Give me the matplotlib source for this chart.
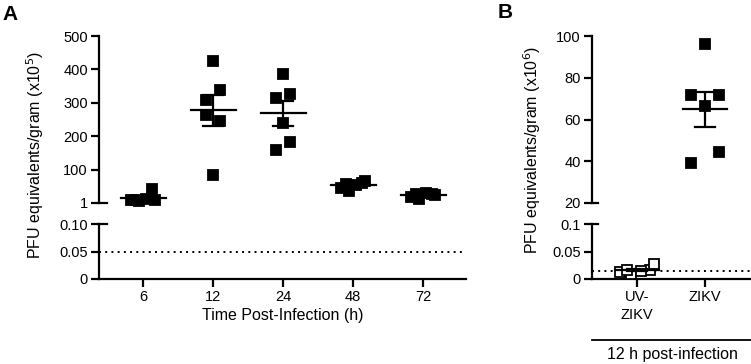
import numpy as np
import matplotlib
matplotlib.use('Agg')
import matplotlib.pyplot as plt

plt.rcParams['font.family'] = ['Liberation Sans', 'DejaVu Sans']
plt.rcParams['font.size'] = 10.5

# panel A: viral load over time (x10^5 PFU eq/g)
hours = ['6', '12', '24', '48', '72']
h6 = [42, 10, 8, 12, 9, 10]
h12 = [425, 310, 338, 263, 246, 86]
h24 = [386, 316, 326, 160, 184, 239]
h48 = [60, 45, 38, 55, 68, 58]
h72 = [28, 20, 12, 30, 26, 28]
lod_a = 0.05

# panel B: 12 h post-infection (x10^6 PFU eq/g)
groups_b = ['UV-\nZIKV', 'ZIKV']
uv_zikv = [0.016, 0.013, 0.010, 0.015, 0.027, 0.016]
zikv = [96.2, 71.6, 71.6, 39.4, 44.2, 66.6]
lod_b = 0.015

# horizontal spread of points within a column (x units)
spread = np.array([0.0, -0.1, 0.1, -0.1, 0.1, 0.0])
spread_tight = np.array([0.13, -0.17, -0.06, 0.04, 0.17, -0.1])

W, H = 751, 364
fig = plt.figure(figsize=(W / 100, H / 100), dpi=100)

def fax(x0, y0, x1, y1):
    # pixel box (top-left origin) -> figure axes
    return fig.add_axes([x0 / W, 1 - y1 / H, (x1 - x0) / W, (y1 - y0) / H])

def style(ax, bottom=False):
    for s in ['top', 'right']:
        ax.spines[s].set_visible(False)
    ax.spines['bottom'].set_visible(bottom)
    for s in ['left', 'bottom']:
        ax.spines[s].set_linewidth(1.6)
    ax.tick_params(width=1.6, length=6, pad=2, labelsize=10.5)
    ax.patch.set_alpha(0)

def scatter_group(ax, x, vals, offs, face='black', mw=0.32, cw=0.14):
    vals = np.array(vals)
    xs = x + offs[:len(vals)]
    ax.plot(xs, vals, 's', ms=7, mfc=face, mec='black', mew=1.3, clip_on=False, zorder=3)
    m = vals.mean()
    sem = vals.std(ddof=1) / np.sqrt(len(vals))
    ax.plot([x - mw, x + mw], [m, m], color='black', lw=1.6, clip_on=False, zorder=4)
    ax.errorbar([x], [m], yerr=[sem], fmt='none', ecolor='black', elinewidth=1.6,
                capsize=0, clip_on=False, zorder=4)
    for y in [m - sem, m + sem]:
        ax.plot([x - cw, x + cw], [y, y], color='black', lw=1.6, clip_on=False, zorder=4)

def break_tick(ax, y, frac):
    ax.plot([0, frac], [y, y], color='black', lw=1.6, transform=ax.get_yaxis_transform(),
            clip_on=False)

# ---------- panel A ----------
xa = np.arange(len(hours))
xlim_a = (-0.63, 4.61)
axA = fax(99, 36, 466, 203)
axA2 = fax(99, 224, 466, 279)
style(axA)
style(axA2, bottom=True)

data_a = [h6, h12, h24, h48, h72]
offs_a = [spread_tight, spread, spread, spread_tight, spread_tight]
for i, vals in enumerate(data_a):
    scatter_group(axA, xa[i], vals, offs_a[i])

axA.set_xlim(*xlim_a)
axA.set_ylim(1, 500)
axA.set_yticks([1, 100, 200, 300, 400, 500])
axA.set_yticklabels(['1', '100', '200', '300', '400', '500'])
axA.set_xticks([])
break_tick(axA, 1, 0.022)

axA2.set_xlim(*xlim_a)
axA2.set_ylim(0, 0.1)
axA2.set_yticks([0, 0.05, 0.1])
axA2.set_yticklabels(['0', '0.05', '0.10'])
axA2.set_xticks(xa)
axA2.set_xticklabels(hours)
axA2.axhline(lod_a, color='black', lw=1.4, ls=(0, (1, 2.2)))
break_tick(axA2, 0.1, 0.022)
axA2.set_xlabel('Time Post-Infection (h)', fontsize=11.5, labelpad=3)

fig.text(35 / W, 1 - 155 / H, 'PFU equivalents/gram (x10$^5$)', rotation=90,
         ha='center', va='center', fontsize=11.5)
fig.text(2 / W, 1 - 15 / H, 'A', fontsize=15, fontweight='bold', va='center')

# ---------- panel B ----------
xb = np.arange(len(groups_b))
xlim_b = (-0.662, 1.676)
axB = fax(592, 36, 751, 203)
axB2 = fax(592, 224, 751, 279)
style(axB)
style(axB2, bottom=True)

scatter_group(axB, xb[1], zikv, 2 * spread, mw=0.33, cw=0.15)
axB.set_xlim(*xlim_b)
axB.set_ylim(20, 100)
axB.set_yticks([20, 40, 60, 80, 100])
axB.set_xticks([])
break_tick(axB, 20, 0.04)

scatter_group(axB2, xb[0], uv_zikv, 1.5 * spread_tight, face='white', mw=0.33, cw=0.15)
axB2.set_xlim(*xlim_b)
axB2.set_ylim(0, 0.1)
axB2.set_yticks([0, 0.05, 0.1])
axB2.set_yticklabels(['0', '0.05', '0.1'])
axB2.set_xticks(xb)
axB2.set_xticklabels(groups_b, linespacing=1.35)
axB2.axhline(lod_b, color='black', lw=1.4, ls=(0, (1, 2.2)), zorder=1)
break_tick(axB2, 0.1, 0.04)

fig.add_artist(plt.Line2D([592 / W, 751 / W], [1 - 340 / H, 1 - 340 / H], color='black', lw=1.3))
fig.text(672 / W, 1 - 354 / H, '12 h post-infection', ha='center', va='center', fontsize=11.5)

fig.text(532 / W, 1 - 150 / H, 'PFU equivalents/gram (x10$^6$)', rotation=90,
         ha='center', va='center', fontsize=11.5)
fig.text(498 / W, 1 - 12 / H, 'B', fontsize=15, fontweight='bold', va='center')

fig.savefig('out.png', dpi=100)
